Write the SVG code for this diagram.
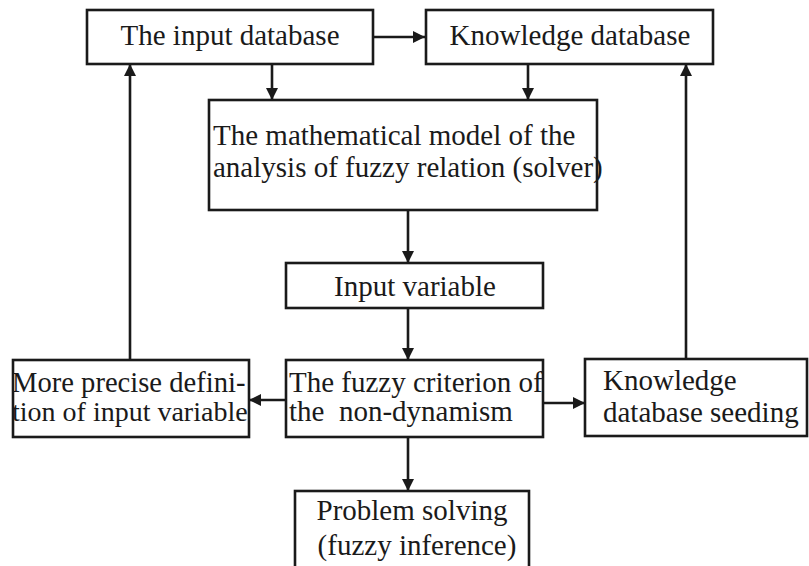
<svg xmlns="http://www.w3.org/2000/svg" width="809" height="566" viewBox="0 0 809 566">
<style>
  .box { fill: #ffffff; stroke: #1a1a1a; stroke-width: 2.6; }
  .t { font-family: "Liberation Serif", "Times New Roman", "DejaVu Serif", serif; font-size: 29px; fill: #1a1a1a; white-space: pre; }
  .c { text-anchor: middle; }
  .conn line { stroke: #1a1a1a; stroke-width: 2.6; }
</style>
<defs>
  <marker id="ah" viewBox="0 0 12 12" refX="12" refY="6" markerWidth="13" markerHeight="12" markerUnits="userSpaceOnUse" orient="auto">
    <path d="M0,0 L12,6 L0,12 z" fill="#1a1a1a"/>
  </marker>
</defs>
<rect x="0" y="0" width="809" height="566" fill="#ffffff"/>

<g class="conn">
  <line x1="373" y1="37" x2="425" y2="37" marker-end="url(#ah)"/>
  <line x1="272" y1="64" x2="272" y2="100" marker-end="url(#ah)"/>
  <line x1="528" y1="64" x2="528" y2="100" marker-end="url(#ah)"/>
  <line x1="408" y1="210" x2="408" y2="263" marker-end="url(#ah)"/>
  <line x1="408" y1="308" x2="408" y2="360" marker-end="url(#ah)"/>
  <line x1="286" y1="400" x2="249" y2="400" marker-end="url(#ah)"/>
  <line x1="543" y1="403" x2="585" y2="403" marker-end="url(#ah)"/>
  <line x1="408" y1="437" x2="408" y2="491" marker-end="url(#ah)"/>
  <line x1="130" y1="360" x2="130" y2="64" marker-end="url(#ah)"/>
  <line x1="686" y1="359" x2="686" y2="64" marker-end="url(#ah)"/>
</g>

<g id="input-database">
  <rect class="box" x="87" y="10" width="286" height="54"/>
  <text class="t c" x="230" y="45">The input database</text>
</g>
<g id="knowledge-database">
  <rect class="box" x="426" y="10" width="287" height="54"/>
  <text class="t c" x="570" y="45">Knowledge database</text>
</g>
<g id="solver">
  <rect class="box" x="209" y="100" width="388" height="110"/>
  <text class="t" x="213" y="145">The mathematical model of the</text>
  <text class="t" x="213" y="177">analysis of fuzzy relation (solver)</text>
</g>
<g id="input-variable">
  <rect class="box" x="286" y="263" width="257" height="45"/>
  <text class="t c" x="415" y="296">Input variable</text>
</g>
<g id="precise-definition">
  <rect class="box" x="13" y="360" width="236" height="77"/>
  <text class="t" x="12" y="392" style="font-size:28.6px">More precise defini-</text>
  <text class="t" x="12" y="421" style="font-size:28px">tion of input variable</text>
</g>
<g id="fuzzy-criterion">
  <rect class="box" x="286" y="360" width="257" height="77"/>
  <text class="t" x="289" y="392">The fuzzy criterion of</text>
  <text class="t" x="289" y="421">the  non-dynamism</text>
</g>
<g id="knowledge-seeding">
  <rect class="box" x="585" y="359" width="222" height="77"/>
  <text class="t" x="603" y="390">Knowledge</text>
  <text class="t" x="603" y="422">database seeding</text>
</g>
<g id="problem-solving">
  <rect class="box" x="295" y="491" width="234" height="90"/>
  <text class="t c" x="412" y="520">Problem solving</text>
  <text class="t c" x="417" y="555">(fuzzy inference)</text>
</g>
</svg>
